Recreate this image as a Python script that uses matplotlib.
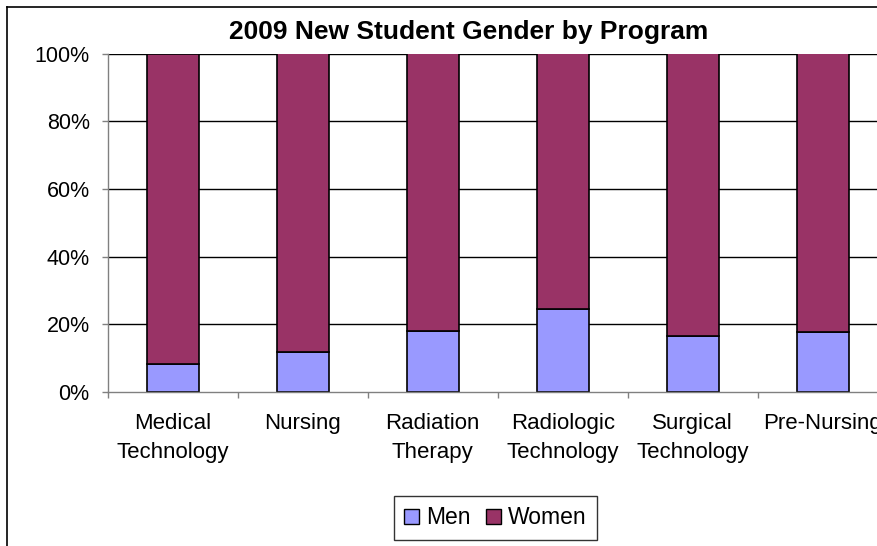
import matplotlib
matplotlib.use("Agg")
import matplotlib.pyplot as plt
from matplotlib.lines import Line2D
from matplotlib.patches import Patch
import numpy as np

plt.rcParams['font.family'] = ['Liberation Sans', 'DejaVu Sans']

categories = ["Medical\nTechnology", "Nursing", "Radiation\nTherapy",
              "Radiologic\nTechnology", "Surgical\nTechnology", "Pre-Nursing"]
men = [8.2, 11.7, 18.1, 24.6, 16.5, 17.6]
women = [100 - m for m in men]
yticks = [0, 20, 40, 60, 80, 100]
ytick_labels = ["0%", "20%", "40%", "60%", "80%", "100%"]
title = "2009 New Student Gender by Program"

W, H = 878, 546
fig = plt.figure(figsize=(W / 100, H / 100), dpi=100)
ax = fig.add_axes([107.7 / W, (H - 392) / H, 780 / W, 338.5 / H])

x = np.arange(len(categories))
ax.bar(x, men, width=0.4, color="#9999FF", edgecolor="black", linewidth=1.2, zorder=3, label="Men")
ax.bar(x, women, bottom=men, width=0.4, color="#993366", edgecolor="black", linewidth=1.2, zorder=3, label="Women")

ax.set_xlim(-0.5, len(categories) - 0.5)
ax.set_ylim(0, 100)
ax.set_yticks(yticks)
ax.set_yticklabels(ytick_labels, fontsize=15.5)
ax.set_xticks(x)
ax.set_xticklabels(categories, fontsize=16, linespacing=1.5)
ax.set_xticks(np.arange(-0.5, len(categories), 1.0), minor=True)
ax.tick_params(axis='x', which='major', length=0, pad=15)
ax.tick_params(axis='x', which='minor', length=4, color="#808080", width=1)
ax.tick_params(axis='y', length=4, color="#808080", width=1, pad=9)

for y in yticks[1:]:
    ax.axhline(y, color="black", linewidth=1, zorder=1)

for s in ['top', 'right']:
    ax.spines[s].set_visible(False)
for s in ['left', 'bottom']:
    ax.spines[s].set_color("#808080")
    ax.spines[s].set_linewidth(1)
    ax.spines[s].set_zorder(4)

fig.text(469 / W, 1 - 32 / H, title, ha="center", va="center", fontsize=19, fontweight="bold")

handles = [Patch(facecolor="#9999FF", edgecolor="black", label="Men"),
           Patch(facecolor="#993366", edgecolor="black", label="Women")]
leg = fig.legend(handles=handles, loc="center", bbox_to_anchor=(495.5 / W, 1 - 518 / H),
                 ncol=2, fontsize=16.5, frameon=True, fancybox=False, handlelength=0.65,
                 handleheight=0.65, handletextpad=0.3, columnspacing=0.7, borderpad=0.45)
leg.get_frame().set_edgecolor("black")
leg.get_frame().set_linewidth(1)

# outer chart border
fig.add_artist(Line2D([7 / W, 7 / W], [0, 1 - 7 / H], transform=fig.transFigure, color="black", linewidth=1.2))
fig.add_artist(Line2D([7 / W, 1], [1 - 7 / H, 1 - 7 / H], transform=fig.transFigure, color="black", linewidth=1.2))

fig.savefig("out.png", dpi=100)
